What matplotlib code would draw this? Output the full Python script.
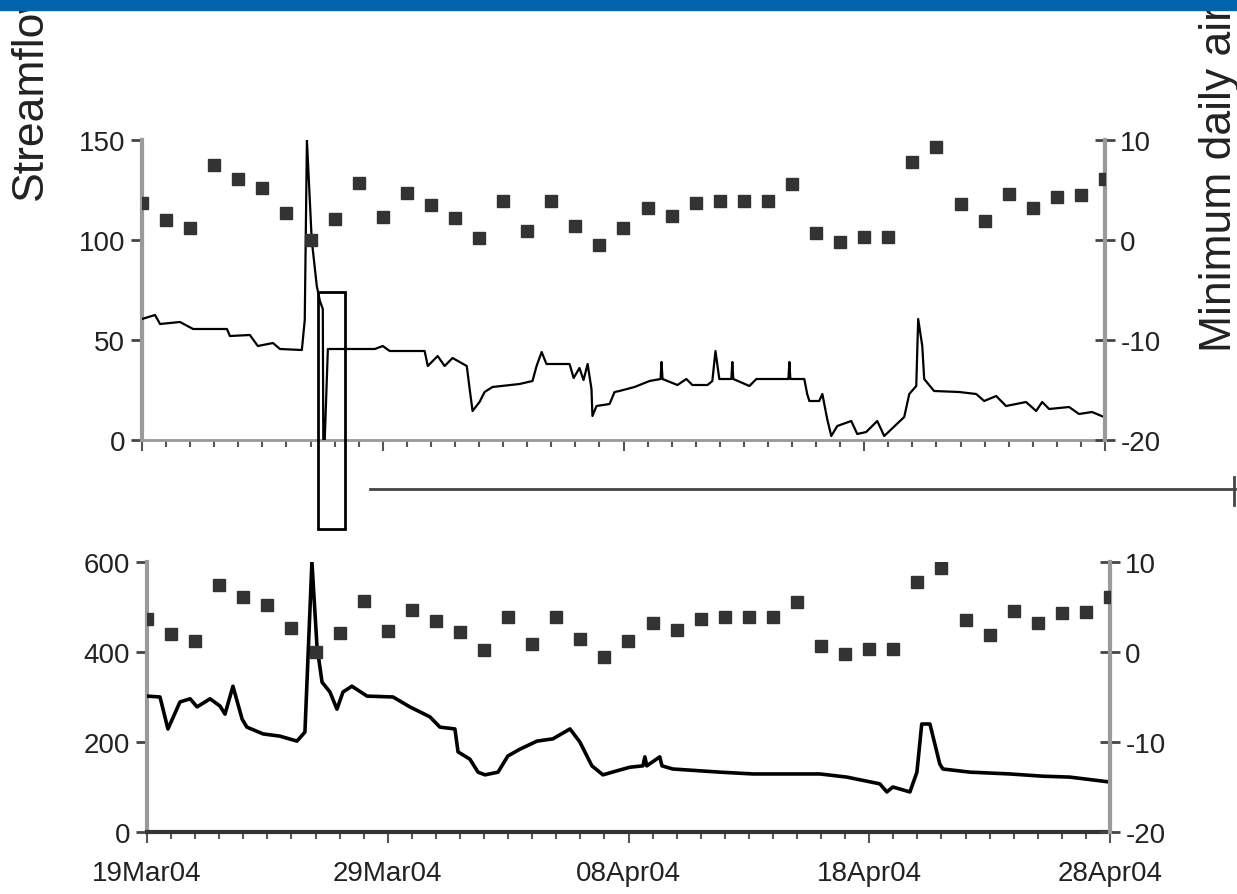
import matplotlib.pyplot as plt
from matplotlib.patches import Rectangle
from matplotlib.lines import Line2D

# days since 19Mar04
temp_days = list(range(41))
temp_min = [3.7, 2.0, 1.2, 7.5, 6.1, 5.2, 2.7, 0.0, 2.1, 5.7, 2.3, 4.7, 3.5, 2.2,
            0.2, 3.9, 0.9, 3.9, 1.4, -0.5, 1.2, 3.2, 2.4, 3.7, 3.9, 3.9, 3.9, 5.6,
            0.7, -0.2, 0.3, 0.3, 7.8, 9.3, 3.6, 1.9, 4.6, 3.2, 4.3, 4.5, 6.1]

# upper panel streamflow (first site)
q1_days = [0.00, 0.54, 0.75, 1.58, 2.12, 3.53, 3.65, 4.48, 4.81, 5.44, 5.73, 6.64,
           6.76, 6.85, 7.05, 7.26, 7.39, 7.51, 7.53, 7.59, 7.72, 9.67, 10.00, 10.29,
           11.74, 11.87, 12.28, 12.57, 12.90, 13.49, 13.61, 13.73, 14.02, 14.23,
           14.56, 15.68, 16.22, 16.39, 16.60, 16.80, 17.76, 17.93, 18.17, 18.34,
           18.51, 18.67, 18.71, 18.88, 19.42, 19.63, 19.83, 20.46, 21.08, 21.54,
           21.58, 21.62, 22.24, 22.61, 22.86, 23.49, 23.69, 23.82, 23.98, 24.48,
           24.52, 24.56, 25.23, 25.52, 26.85, 26.89, 26.93, 27.51, 27.63, 27.72,
           28.13, 28.26, 28.46, 28.63, 28.88, 29.46, 29.71, 30.08, 30.54, 30.83,
           31.66, 31.87, 32.16, 32.24, 32.41, 32.49, 32.90, 33.94, 34.65, 34.98,
           35.48, 35.89, 36.72, 37.14, 37.39, 37.68, 38.51, 38.92, 39.46, 39.96]
q1_vals = [60.5, 62.5, 58, 59, 55.5, 55.5, 52, 52.5, 47, 48.5, 45.5, 45,
           60, 150, 100, 77, 69.5, 65.5, 0, 0, 45.5, 45.5, 47, 44.5,
           44.5, 37, 42, 37, 41, 37, 25.5, 14.5, 19, 24,
           26.5, 28, 29.5, 37, 44, 38, 38, 31, 36, 30,
           38, 25.5, 12, 17, 18, 24, 24.5, 26.5, 29.5, 30.5,
           39, 30.5, 27.5, 30.5, 27.5, 27.5, 29.5, 44.5, 30.5, 30.5,
           39, 30.5, 27, 30.5, 30.5, 39, 30.5, 30.5, 23, 19.5,
           19.5, 23, 10.5, 2, 7, 9.5, 3, 4, 9.5, 2,
           11.5, 23, 27, 60.5, 47, 30.5, 24.5, 24, 23, 19.5,
           22, 17, 19, 14.5, 19, 15.5, 16.5, 13, 14, 11.5]

# lower panel streamflow (second site)
q2_days = [0.00, 0.54, 0.87, 1.37, 1.79, 2.08, 2.62, 3.03, 3.24, 3.57, 3.95, 4.15,
           4.82, 5.52, 6.23, 6.56, 6.85, 7.06, 7.27, 7.60, 7.89, 8.14, 8.51, 9.14,
           10.22, 10.92, 11.75, 12.17, 12.79, 12.92, 13.41, 13.75, 14.04, 14.58,
           14.99, 15.49, 16.20, 16.86, 17.57, 17.98, 18.48, 18.94, 19.52, 20.06,
           20.60, 20.68, 20.76, 21.30, 21.39, 21.84, 23.80, 25.17, 27.95, 29.07,
           30.44, 30.73, 30.98, 31.69, 31.98, 32.18, 32.52, 32.93, 33.06, 34.18,
           35.84, 37.21, 38.33, 39.70, 40.00]
q2_vals = [302, 300, 229, 289, 296, 278, 296, 280, 262, 324, 251, 233,
           218, 213, 202, 222, 600, 413, 333, 311, 273, 311, 324, 302,
           300, 278, 256, 233, 229, 178, 162, 133, 127, 133,
           169, 184, 202, 207, 229, 200, 147, 127, 136, 144,
           147, 167, 147, 167, 147, 140, 133, 129, 129, 122,
           107, 89, 100, 89, 133, 240, 240, 151, 140, 133,
           129, 124, 122, 113, 111]

date_ticks = [0, 10, 20, 30, 40]
date_labels = ['19Mar04', '29Mar04', '08Apr04', '18Apr04', '28Apr04']

plt.rcParams['font.family'] = ['Liberation Sans', 'DejaVu Sans']
plt.rcParams['axes.unicode_minus'] = False
W, H = 1237, 895
fig = plt.figure(figsize=(W / 100, H / 100), dpi=100)

ax1 = fig.add_axes([142 / W, 1 - 441 / H, 963 / W, 300 / H])
ax2 = fig.add_axes([147 / W, 1 - 833 / H, 963 / W, 270 / H])

panels = [(ax1, q1_days, q1_vals, 150, [0, 50, 100, 150], 1.6, '#999999', 2),
          (ax2, q2_days, q2_vals, 600, [0, 200, 400, 600], 2.6, '#333333', 3)]

for ax, d, q, top, yt, lw, bcol, blw in panels:
    ax.plot(d, q, color='black', lw=lw, zorder=3)
    ax.set_xlim(0, 40)
    ax.set_ylim(0, top)
    ax.set_yticks(yt)
    ax.set_xticks(date_ticks)
    ax.set_xticks(range(41), minor=True)
    for s in ['top', 'right']:
        ax.spines[s].set_visible(False)
    ax.spines['left'].set_color('#9a9a9a')
    ax.spines['left'].set_linewidth(3)
    ax.spines['bottom'].set_color(bcol)
    ax.spines['bottom'].set_linewidth(blw)
    ax.tick_params(axis='y', direction='out', length=8, width=2, color='#444444',
                   labelsize=20, labelcolor='#222222', pad=4)
    ax.tick_params(axis='x', which='both', direction='out', width=1.5, color='#555555',
                   labelsize=20, labelcolor='#222222', pad=12)
    ax.tick_params(axis='x', which='major', length=8)
    ax.tick_params(axis='x', which='minor', length=5)
    ax.patch.set_alpha(0)

    tx = ax.twinx()
    tx.plot(temp_days, temp_min, 's', color='#333333', ms=8, zorder=4)
    tx.set_ylim(-20, 10)
    tx.set_yticks([-20, -10, 0, 10])
    tx.set_xlim(0, 40)
    for s in ['top', 'left', 'bottom']:
        tx.spines[s].set_visible(False)
    tx.spines['right'].set_color('#9a9a9a')
    tx.spines['right'].set_linewidth(3)
    tx.tick_params(axis='y', direction='inout', length=14, width=2, color='#444444',
                   labelsize=20, labelcolor='#222222', pad=4)

ax1.set_xticklabels([])
ax2.set_xticklabels(date_labels)

# header bar
fig.patches.append(Rectangle((0, 1 - 11 / H), 1, 11 / H, transform=fig.transFigure,
                             color='#0063ae', zorder=10))

# zoom box and connector
fig.patches.append(Rectangle((318 / W, 1 - 530 / H), 27 / W, 237 / H,
                             transform=fig.transFigure, fill=False,
                             edgecolor='black', lw=2, zorder=5))
fig.lines.append(Line2D([370 / W, 1235 / W], [1 - 490 / H, 1 - 490 / H],
                        transform=fig.transFigure, color='#444444', lw=2))
fig.lines.append(Line2D([1234 / W, 1234 / W], [1 - 478 / H, 1 - 506 / H],
                        transform=fig.transFigure, color='#444444', lw=2))

# axis titles run off the top edge, as in the cropped original
fig.text(30 / W, 1 - 200 / H, 'Streamflow', rotation=90, ha='center', va='bottom',
         fontsize=32, color='#222222')
fig.text(1220 / W, 1 - 352 / H, 'Minimum daily air temperature', rotation=90,
         ha='center', va='bottom', fontsize=32, color='#222222')

fig.savefig('out.png', dpi=100)
